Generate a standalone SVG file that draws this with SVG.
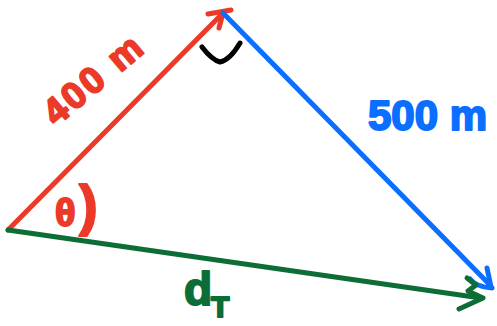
<svg xmlns="http://www.w3.org/2000/svg" width="497" height="326" viewBox="0 0 497 326">
<style>
.ln{fill:none;stroke-linecap:round;stroke-linejoin:round;stroke-width:5}
.r{stroke:#ec3a28}
.b{stroke:#0a6fff}
.g{stroke:#0d6d36}
.k{stroke:#000}
.t{font-family:"Liberation Sans",Arial,sans-serif;font-weight:bold;stroke-linejoin:round;stroke-width:2}
</style>
<rect width="497" height="326" fill="#fff"/>
<g id="connectors">
<g id="side-red">
<path class="ln r" d="M8,230 L222,14"/>
<path class="ln r" d="M208,14 L231,10" stroke-width="7"/>
<path class="ln r" d="M223,13 L219,28" stroke-width="6"/>
</g>
<g id="side-blue">
<path class="ln b" d="M223,13 L490,285"/>
<path class="ln b" d="M487,268 L491,287"/>
<path class="ln b" d="M470,279 Q476,287 492,288"/>
</g>
<g id="side-green">
<path class="ln g" d="M8,230 L481,298"/>
<path class="ln g" d="M467,278 L476,285 L468,291 L483,298 L459,309"/>
</g>
</g>
<g id="right-angle-check">
<path class="ln k" d="M202,47 Q212,60 220,62 Q230,60 240,43" stroke-width="5.5"/>
</g>
<g id="label-400">
<text class="t" x="0" y="0" font-size="37" letter-spacing="3" fill="#ec3a28" stroke="#ec3a28" transform="translate(56,127) rotate(-40)">400 m</text>
</g>
<g id="label-500">
<text class="t" x="368" y="130" font-size="42" fill="#0a6fff" stroke="#0a6fff">500 m</text>
</g>
<g id="label-theta">
<text class="t" x="55" y="226" font-size="38" fill="#ec3a28" stroke="#ec3a28">θ</text>
<text class="t" x="79" y="224" font-size="56" font-weight="normal" fill="#ec3a28" stroke="#ec3a28">)</text>
</g>
<g id="label-dT">
<text class="t" x="184" y="305" font-size="46" fill="#0d6d36" stroke="#0d6d36">d</text>
<text class="t" x="211" y="317" font-size="30" fill="#0d6d36" stroke="#0d6d36">T</text>
</g>
</svg>
